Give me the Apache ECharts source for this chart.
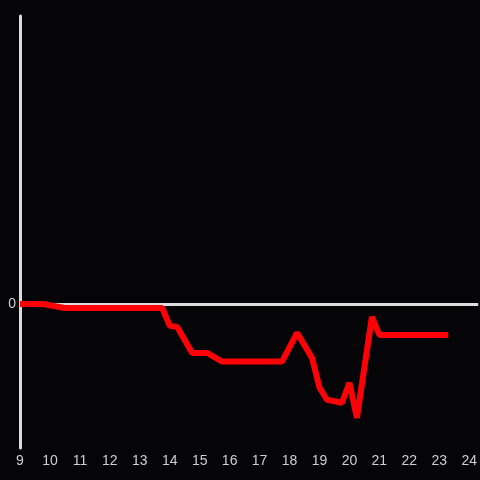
<!DOCTYPE html>
<html>
<head>
<meta charset="utf-8">
<script src="https://cdn.jsdelivr.net/npm/echarts@6/dist/echarts.min.js"></script>
<style>
html,body{margin:0;padding:0;background:#050407;}
#chart{width:480px;height:480px;}
</style>
</head>
<body>
<div id="chart"></div>
<script>
// hour of day and value
var hours = [9, 9.75, 10.5, 13.75, 14, 14.25, 14.75, 15.25, 15.75, 17.75, 18.25, 18.75, 19, 19.25, 19.75, 20, 20.25, 20.75, 21, 23.3];
var values = [0, 0, -0.028, -0.028, -0.152, -0.159, -0.34, -0.34, -0.40, -0.40, -0.20, -0.374, -0.58, -0.665, -0.686, -0.547, -0.79, -0.09, -0.215, -0.215];
var xTicks = [9, 10, 11, 12, 13, 14, 15, 16, 17, 18, 19, 20, 21, 22, 23, 24];
var yTicks = [0];

var seriesData = [];
for (var i = 0; i < hours.length; i++) {
    seriesData.push([hours[i], values[i]]);
}

var chart = echarts.init(document.getElementById('chart'));
var option = {
    backgroundColor: '#050407',
    animation: false,
    grid: {
        left: 20,
        right: 0,
        top: 16,
        bottom: 32
    },
    xAxis: {
        type: 'value',
        min: 9,
        max: 24.3,
        interval: 1,
        axisLine: { show: false },
        axisTick: { show: false },
        splitLine: { show: false },
        axisLabel: {
            customValues: xTicks,
            color: '#cfcfcf',
            fontSize: 14,
            margin: 6
        }
    },
    yAxis: {
        type: 'value',
        min: -1,
        max: 2,
        axisLine: { show: true, lineStyle: { color: '#dcdcdc', width: 3 } },
        axisTick: { show: false },
        splitLine: { show: false },
        axisLabel: {
            customValues: yTicks,
            color: '#cfcfcf',
            fontSize: 14,
            margin: 4
        }
    },
    series: [{
        type: 'line',
        data: seriesData,
        symbol: 'none',
        z: 3,
        lineStyle: { color: '#ff0007', width: 6 },
        markLine: {
            symbol: 'none',
            silent: true,
            z: 1,
            label: { show: false },
            lineStyle: { color: '#dcdcdc', width: 3, type: 'solid' },
            data: [{ yAxis: 0 }]
        }
    }]
};
chart.setOption(option);
</script>
</body>
</html>
